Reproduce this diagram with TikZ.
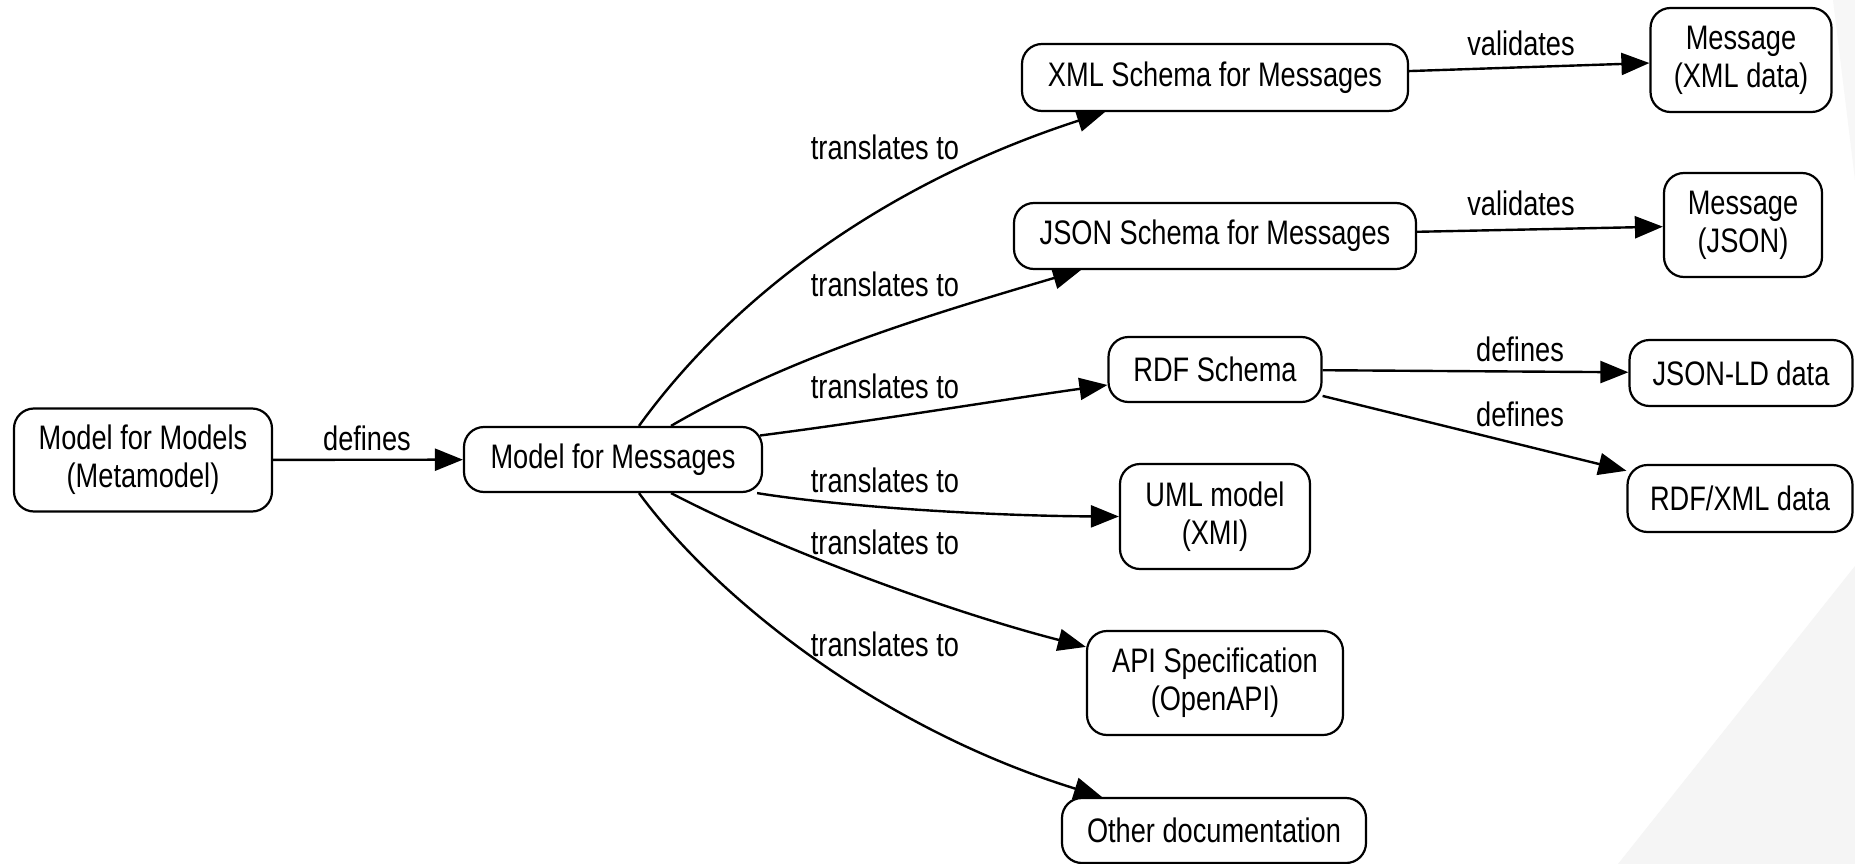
\documentclass[tikz,border=0pt]{standalone}
\usepackage{fontspec}
\setmainfont[FakeStretch=0.8]{Liberation Sans}
\usetikzlibrary{arrows.meta,calc,backgrounds}
\begin{document}
\begin{tikzpicture}[x=1pt,y=-1pt,
  box/.style={draw=black, line width=2.2pt, rounded corners=20pt, fill=white, align=center, inner sep=0pt, font=\fontsize{34}{38}\selectfont},
  lbl/.style={font=\fontsize{34}{38}\selectfont, inner sep=0pt},
  conn/.style={draw=black, line width=2.4pt, -{Triangle[length=28pt,width=22pt]}},
]
\useasboundingbox (0,0) rectangle (1855,864);

% nodes
\node[box, minimum width=258pt, minimum height=103pt] (mm)    at (143,460)   {Model for Models\\(Metamodel)};
\node[box, minimum width=298pt, minimum height=65pt]  (msg)   at (613,459.5) {Model for Messages};
\node[box, minimum width=386pt, minimum height=67pt]  (xml)   at (1215,77.5) {XML Schema for Messages};
\node[box, minimum width=402pt, minimum height=66pt]  (json)  at (1215,236)  {JSON Schema for Messages};
\node[box, minimum width=213pt, minimum height=65pt]  (rdf)   at (1215,369.5){RDF Schema};
\node[box, minimum width=190pt, minimum height=105pt] (uml)   at (1215,516.5){UML model\\(XMI)};
\node[box, minimum width=256pt, minimum height=104pt] (api)   at (1215,683)  {API Specification\\(OpenAPI)};
\node[box, minimum width=304pt, minimum height=65pt]  (other) at (1214,830.5){Other documentation};
\node[box, minimum width=181pt, minimum height=104pt] (mx)    at (1741,60)   {Message\\(XML data)};
\node[box, minimum width=158pt, minimum height=104pt] (mj)    at (1743,225)  {Message\\(JSON)};
\node[box, minimum width=223pt, minimum height=66pt]  (ld)    at (1741,373)  {JSON-LD data};
\node[box, minimum width=225pt, minimum height=67pt]  (rx)    at (1740,498.5){RDF/XML data};

% labels
\node[lbl] (l0) at (367,438) {defines};
\node[lbl] (l1) at (885,147) {translates to};
\node[lbl] (l2) at (885,284) {translates to};
\node[lbl] (l3) at (885,386) {translates to};
\node[lbl] (l4) at (885,480) {translates to};
\node[lbl] (l5) at (885,542) {translates to};
\node[lbl] (l6) at (885,644) {translates to};
\node[lbl] (l7) at (1521,43) {validates};
\node[lbl] (l8) at (1521,203) {validates};
\node[lbl] (l9) at (1520,349) {defines};
\node[lbl] (l10) at (1520,414) {defines};

\begin{scope}[on background layer]
\fill[white] (0,0) rectangle (1855,864);
\fill[black!4] (1618,864) -- (1855,566) -- (1855,864) -- cycle;
\fill[black!3] (1833,0) -- (1855,0) -- (1855,180) -- cycle;

\draw[conn] (mm) -- (msg);
\draw[conn] ([xshift=26pt]msg.north) .. controls (730,300) and (880,185) .. ([xshift=84pt]xml.south west);
\draw[conn] ([xshift=58pt]msg.north) .. controls (791,356) and (932,314) .. ([xshift=68pt]json.south west);
\draw[conn] ([xshift=-3pt,yshift=24pt]msg.east) .. controls (880,420) and (1000,400) .. ([yshift=-15.5pt]rdf.west);
\draw[conn] ([xshift=-6pt]msg.south east) .. controls (850,508) and (1000,516) .. (uml.west);
\draw[conn] ([xshift=58pt]msg.south) .. controls (780,550) and (950,612) .. ([yshift=-17pt]api.north west);
\draw[conn] ([xshift=26pt]msg.south) .. controls (710,590) and (870,725) .. ([xshift=41pt]other.north west);
\draw[conn] (xml) -- (mx);
\draw[conn] (json) -- (mj);
\draw[conn] (rdf) -- (ld);
\draw[conn] (rdf) -- (rx);
\end{scope}
\end{tikzpicture}
\end{document}
